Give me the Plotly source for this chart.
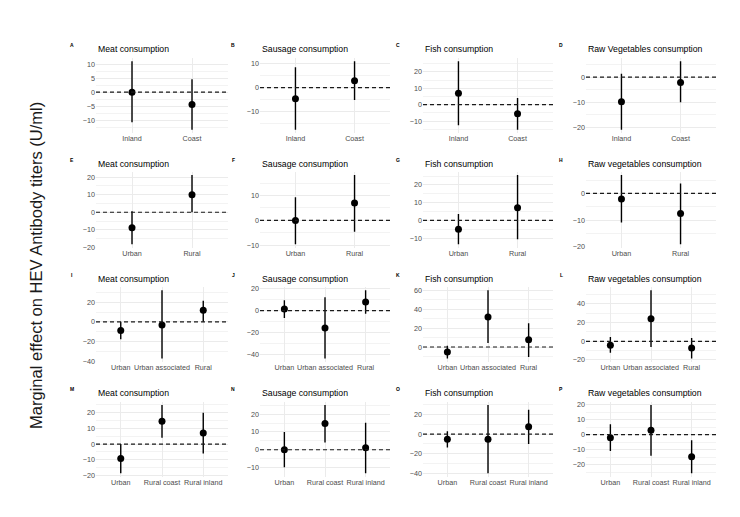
import plotly.graph_objects as go

W, H = 740, 517

# ---------------- data ----------------
cats_coast = ["Inland", "Coast"]
cats_urban = ["Urban", "Rural"]
cats_urban3 = ["Urban", "Urban associated", "Rural"]
cats_rural3 = ["Urban", "Rural coast", "Rural inland"]

titles_row1 = ["Meat consumption", "Sausage consumption", "Fish consumption", "Raw Vegetables consumption"]
titles_rows = ["Meat consumption", "Sausage consumption", "Fish consumption", "Raw vegetables consumption"]
panel_letters = list("ABCDEFGHIJKLMNOP")

A_est = [0.0, -4.35]; A_lo = [-10.7, -13.3]; A_hi = [11.0, 4.6]
B_est = [-4.7, 2.9];  B_lo = [-17.6, -5.2];  B_hi = [8.5, 11.0]
C_est = [7.0, -5.6];  C_lo = [-12.6, -15.2]; C_hi = [26.4, 4.0]
D_est = [-9.9, -2.2]; D_lo = [-21.0, -10.1]; D_hi = [1.3, 6.3]

E_est = [-8.8, 10.0]; E_lo = [-18.2, 0.0];   E_hi = [0.6, 21.2]
F_est = [0.0, 7.0];   F_lo = [-9.6, -4.6];   F_hi = [9.3, 18.3]
G_est = [-4.9, 7.1];  G_lo = [-13.4, -10.6]; G_hi = [3.6, 25.6]
H_est = [-2.1, -7.5]; H_lo = [-10.9, -19.0]; H_hi = [6.9, 3.7]

I_est = [-8.7, -3.0, 11.7]; I_lo = [-17.5, -37.0, 0.3];  I_hi = [0.3, 32.0, 21.4]
J_est = [1.6, -15.9, 8.0];  J_lo = [-6.7, -44.0, -2.8];  J_hi = [9.5, 12.3, 18.7]
K_est = [-5.2, 31.8, 7.7];  K_lo = [-12.2, 4.2, -10.5];  K_hi = [1.4, 60.0, 25.1]
L_est = [-4.3, 24.0, -7.1]; L_lo = [-12.4, -6.0, -18.5]; L_hi = [4.6, 54.6, 3.5]

M_est = [-9.1, 14.5, 7.1];   M_lo = [-18.5, 4.0, -5.9];    M_hi = [0.0, 24.9, 19.9]
N_est = [0.0, 14.8, 1.1];    N_lo = [-9.8, 4.1, -13.2];    N_hi = [10.0, 25.2, 15.2]
O_est = [-5.1, -5.1, 7.7];   O_lo = [-13.6, -40.0, -10.1]; O_hi = [3.0, 30.0, 25.0]
P_est = [-2.0, 2.9, -14.6];  P_lo = [-10.9, -14.0, -25.6]; P_hi = [6.8, 19.7, -3.7]

y_dticks = [5, 10, 10, 10,
            10, 10, 10, 10,
            20, 20, 20, 20,
            10, 10, 20, 10]

panels = [
    (cats_coast, A_est, A_lo, A_hi), (cats_coast, B_est, B_lo, B_hi),
    (cats_coast, C_est, C_lo, C_hi), (cats_coast, D_est, D_lo, D_hi),
    (cats_urban, E_est, E_lo, E_hi), (cats_urban, F_est, F_lo, F_hi),
    (cats_urban, G_est, G_lo, G_hi), (cats_urban, H_est, H_lo, H_hi),
    (cats_urban3, I_est, I_lo, I_hi), (cats_urban3, J_est, J_lo, J_hi),
    (cats_urban3, K_est, K_lo, K_hi), (cats_urban3, L_est, L_lo, L_hi),
    (cats_rural3, M_est, M_lo, M_hi), (cats_rural3, N_est, N_lo, N_hi),
    (cats_rural3, O_est, O_lo, O_hi), (cats_rural3, P_est, P_lo, P_hi),
]

# ---------------- layout geometry (pixels) ----------------
col_x = [(96, 228), (260, 390), (423, 553), (586, 716)]
row_y = [(56.5, 132.6), (171.5, 248.6), (288.2, 364.2), (404.2, 480.2)]
title_y = [48, 164, 280, 395.5]
letter_x = [72, 233, 398, 561]
letter_dy = -4

FONT = "Liberation Sans, Arial, Helvetica, sans-serif"
GRID = "#ebebeb"
TICKC = "#4d4d4d"

fig = go.Figure()
layout = dict(
    width=W, height=H,
    margin=dict(l=0, r=0, t=0, b=0),
    paper_bgcolor="white", plot_bgcolor="white",
    showlegend=False,
    font=dict(family=FONT, color=TICKC, size=7),
)
annotations = []
shapes = []

for i, (cats, est, lo, hi) in enumerate(panels):
    r, c = divmod(i, 4)
    n = i + 1
    xa = "x" if n == 1 else f"x{n}"
    ya = "y" if n == 1 else f"y{n}"
    fig.add_trace(go.Scatter(
        x=cats, y=est, xaxis=xa, yaxis=ya, mode="markers",
        marker=dict(color="black", size=7),
        error_y=dict(type="data", symmetric=False,
                     array=[h - e for h, e in zip(hi, est)],
                     arrayminus=[e - l for e, l in zip(est, lo)],
                     width=0, thickness=1.4, color="black"),
        cliponaxis=False,
    ))
    ymin, ymax = min(lo), max(hi)
    pad = 0.05 * (ymax - ymin)
    x0, x1 = col_x[c]
    y0, y1 = row_y[r]
    dt = y_dticks[i]
    layout[f"xaxis{'' if n == 1 else n}"] = dict(
        domain=[x0 / W, x1 / W], anchor=ya, type="category",
        range=[-0.6, len(cats) - 0.4],
        showgrid=True, gridcolor=GRID, gridwidth=1,
        zeroline=False, showline=False, ticks="", tickangle=0,
        tickfont=dict(size=7.2, color=TICKC, family=FONT),
        fixedrange=True,
    )
    layout[f"yaxis{'' if n == 1 else n}"] = dict(
        domain=[1 - y1 / H, 1 - y0 / H], anchor=xa,
        range=[ymin - pad, ymax + pad],
        tick0=0, dtick=dt,
        showgrid=True, gridcolor=GRID, gridwidth=1,
        minor=dict(tick0=0, dtick=dt / 2, showgrid=True, gridcolor="#f3f3f3", gridwidth=0.6, ticks=""),
        zeroline=False, showline=False, ticks="",
        tickfont=dict(size=7.2, color=TICKC, family=FONT),
        fixedrange=True,
    )
    shapes.append(dict(type="line", xref=f"{xa} domain", yref=ya,
                       x0=0, x1=1, y0=0, y1=0,
                       line=dict(color="#1a1a1a", width=1.2, dash="4px,3px")))
    title = titles_row1[c] if r == 0 else titles_rows[c]
    annotations.append(dict(text=title, xref="paper", yref="paper",
                            x=x0 / W, y=1 - title_y[r] / H,
                            xanchor="left", yanchor="middle", showarrow=False,
                            font=dict(size=8.7, color="black", family=FONT)))
    annotations.append(dict(text=f"<b>{panel_letters[i]}</b>", xref="paper", yref="paper",
                            x=letter_x[c] / W, y=1 - (title_y[r] + letter_dy) / H,
                            xanchor="center", yanchor="middle", showarrow=False,
                            font=dict(size=5, color="black", family=FONT)))

annotations.append(dict(text="Marginal effect on HEV Antibody titers (U/ml)",
                        xref="paper", yref="paper", x=36 / W, y=1 - 267 / H,
                        xanchor="center", yanchor="middle", textangle=-90,
                        showarrow=False, font=dict(size=16.5, color="#1a1a1a", family=FONT)))

layout["annotations"] = annotations
layout["shapes"] = shapes
fig.update_layout(**layout)
fig.write_html("out.html")
